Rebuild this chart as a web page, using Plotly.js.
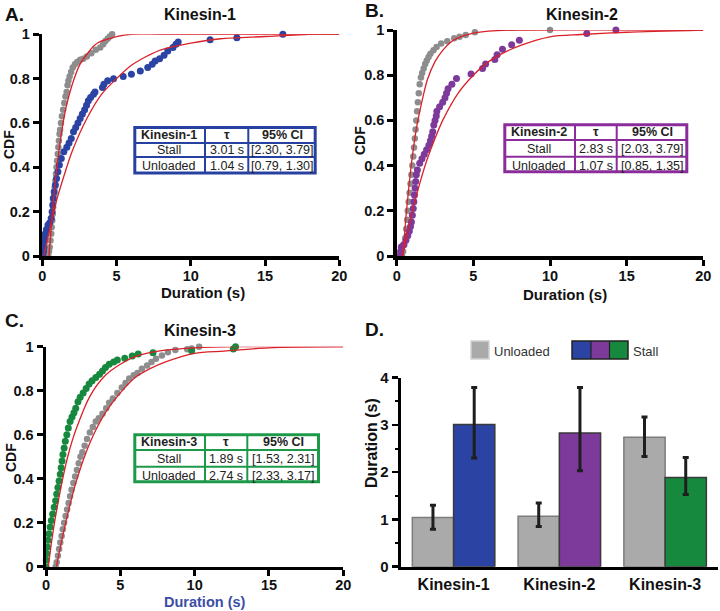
<!DOCTYPE html>
<html>
<head>
<meta charset="utf-8">
<script src="https://cdn.plot.ly/plotly-3.0.1.min.js"></script>
<style>html,body{margin:0;padding:0;background:#fff;}#chart{width:720px;height:611px;}</style>
</head>
<body>
<div id="chart"></div>
<script>
// ---------------- DATA ----------------
const motors = ['Kinesin-1', 'Kinesin-2', 'Kinesin-3'];
const tauUnloaded = [1.04, 1.07, 2.74];
const ciUnloadedLo = [0.79, 0.85, 2.33];
const ciUnloadedHi = [1.30, 1.35, 3.17];
const tauStall = [3.01, 2.83, 1.89];
const ciStallLo = [2.30, 2.03, 1.53];
const ciStallHi = [3.79, 3.79, 2.31];
const xTicksCdf = [0, 5, 10, 15, 20];
const yTicksCdf = [0, 0.2, 0.4, 0.6, 0.8, 1];
const yTicksBar = [0, 1, 2, 3, 4];

// Panel A, Kinesin-1
const k1UnloadedX = [0.40,0.45,0.50,0.55,0.60,0.63,0.67,0.70,0.73,0.76,0.80,0.84,0.88,0.92,0.96,1.00,1.04,1.08,1.12,1.16,1.20,1.26,1.32,1.40,1.48,1.56,1.64,1.70,1.76,1.84,1.94,2.05,2.20,2.35,2.55,2.76,3.00,3.30,3.60,3.90,4.10,4.25,4.40,4.55,4.70];
const k1UnloadedY = [0.00,0.02,0.04,0.07,0.10,0.13,0.16,0.19,0.22,0.25,0.28,0.31,0.34,0.37,0.40,0.43,0.46,0.49,0.52,0.55,0.57,0.60,0.63,0.66,0.69,0.72,0.74,0.77,0.79,0.81,0.83,0.85,0.865,0.875,0.885,0.89,0.90,0.915,0.93,0.94,0.955,0.97,0.98,0.99,1.00];
const k1StallX = [0.05,0.08,0.10,0.12,0.15,0.20,0.28,0.38,0.50,0.60,0.66,0.70,0.74,0.80,0.88,0.96,1.05,1.15,1.28,1.45,1.65,1.80,1.95,2.10,2.25,2.40,2.55,2.70,2.85,2.98,3.10,3.25,3.45,3.55,4.05,4.15,4.40,4.80,5.45,6.00,6.60,7.10,7.40,7.60,7.90,8.20,8.45,8.80,9.00,9.15,11.3,13.1,16.2];
const k1StallY = [0.00,0.02,0.04,0.06,0.08,0.10,0.12,0.14,0.15,0.17,0.20,0.23,0.26,0.29,0.32,0.35,0.38,0.41,0.44,0.47,0.49,0.51,0.53,0.56,0.58,0.60,0.62,0.64,0.66,0.68,0.70,0.715,0.73,0.74,0.76,0.775,0.79,0.80,0.81,0.82,0.835,0.85,0.865,0.88,0.89,0.905,0.925,0.94,0.955,0.965,0.975,0.985,1.00];
const k1FitUnloadedX = [0.45,0.6,0.8,1,1.3,1.6,2,2.5,3,3.5,4,4.5,5,6,8,20];
const k1FitUnloadedY = [0,0.13,0.29,0.41,0.56,0.67,0.77,0.86,0.91,0.95,0.97,0.98,0.99,1,1,1];
const k1FitStallX = [0.1,0.5,1,1.5,2,3,4,5,6,7,8,10,12,15,18,20];
const k1FitStallY = [0,0.12,0.26,0.37,0.47,0.62,0.73,0.80,0.86,0.90,0.93,0.96,0.98,0.99,1,1];

// Panel B, Kinesin-2
const k2UnloadedX = [0.35,0.42,0.50,0.56,0.62,0.68,0.72,0.78,0.84,0.90,0.96,1.02,1.08,1.13,1.18,1.23,1.28,1.33,1.38,1.44,1.50,1.58,1.66,1.76,1.86,1.96,2.08,2.20,2.40,2.60,2.90,3.30,3.75,4.10,4.50,5.10,10.0];
const k2UnloadedY = [0.00,0.02,0.05,0.08,0.12,0.16,0.20,0.24,0.28,0.32,0.36,0.40,0.44,0.48,0.52,0.56,0.60,0.64,0.68,0.72,0.76,0.79,0.81,0.83,0.85,0.865,0.88,0.895,0.91,0.925,0.94,0.95,0.963,0.97,0.978,0.99,1.00];
const k2StallX = [0.20,0.25,0.30,0.45,0.60,0.72,0.82,0.90,0.96,1.02,1.08,1.12,1.16,1.20,1.24,1.28,1.35,1.50,1.65,1.80,1.95,2.10,2.20,2.28,2.35,2.42,2.50,2.58,2.62,2.80,3.00,3.15,3.25,3.35,3.60,3.90,4.85,5.60,5.80,6.40,6.55,6.90,7.50,8.00,12.4,14.3];
const k2StallY = [0.00,0.02,0.04,0.05,0.07,0.09,0.11,0.13,0.15,0.18,0.21,0.24,0.27,0.30,0.33,0.36,0.38,0.41,0.43,0.45,0.47,0.49,0.51,0.53,0.55,0.58,0.60,0.62,0.64,0.66,0.68,0.70,0.72,0.74,0.76,0.785,0.805,0.83,0.85,0.87,0.89,0.915,0.935,0.955,0.985,1.00];
const k2FitUnloadedX = [0.4,0.6,0.8,1,1.3,1.6,2,2.5,3,3.5,4,5,6,8,20];
const k2FitUnloadedY = [0,0.17,0.31,0.43,0.57,0.67,0.78,0.86,0.91,0.945,0.965,0.986,0.995,1,1];
const k2FitStallX = [0.4,0.6,1,1.5,2,2.5,3,4,5,6,7,8,10,12,15,20];
const k2FitStallY = [0,0.07,0.19,0.32,0.43,0.52,0.60,0.72,0.80,0.86,0.90,0.93,0.97,0.98,0.99,1];

// Panel C, Kinesin-3
const k3UnloadedX = [0.65,0.72,0.80,0.88,0.96,1.05,1.13,1.22,1.32,1.42,1.52,1.62,1.72,1.84,1.96,2.08,2.20,2.32,2.45,2.60,2.76,2.95,3.15,3.35,3.55,3.80,4.05,4.25,4.50,4.80,5.10,5.35,5.60,5.90,6.15,6.45,6.80,7.10,7.40,7.80,8.20,8.70,9.50,9.80,10.3];
const k3UnloadedY = [0.00,0.02,0.05,0.08,0.11,0.14,0.17,0.20,0.23,0.26,0.29,0.32,0.35,0.38,0.41,0.44,0.47,0.50,0.52,0.55,0.58,0.61,0.635,0.66,0.675,0.695,0.72,0.745,0.765,0.79,0.815,0.835,0.855,0.87,0.88,0.90,0.915,0.93,0.945,0.96,0.975,0.985,0.988,0.992,1.00];
const k3StallX = [0.00,0.02,0.05,0.10,0.15,0.20,0.28,0.36,0.45,0.55,0.65,0.72,0.80,0.88,0.96,1.02,1.08,1.14,1.22,1.30,1.40,1.50,1.62,1.75,1.88,2.00,2.15,2.30,2.50,2.70,2.90,3.10,3.35,3.60,3.80,4.00,4.25,4.55,4.80,5.30,5.80,6.20,7.20,9.80,12.6,12.75];
const k3StallY = [0.00,0.03,0.06,0.09,0.12,0.15,0.18,0.21,0.24,0.27,0.30,0.33,0.36,0.39,0.42,0.45,0.48,0.51,0.54,0.57,0.60,0.63,0.66,0.68,0.70,0.72,0.75,0.77,0.79,0.81,0.83,0.845,0.86,0.875,0.89,0.905,0.92,0.93,0.94,0.948,0.958,0.967,0.973,0.982,0.99,1.00];
const k3FitUnloadedX = [0.7,1,1.5,2,3,4,5,6,7,8,10,12,15,20];
const k3FitUnloadedY = [0,0.10,0.25,0.38,0.57,0.70,0.79,0.86,0.90,0.93,0.97,0.98,0.995,1];
const k3FitStallX = [0.15,0.5,1,1.5,2,3,4,5,6,8,10,13,20];
const k3FitStallY = [0,0.17,0.36,0.51,0.62,0.78,0.87,0.92,0.955,0.984,0.995,1,1];

// ---------------- STYLE / LAYOUT ----------------
const W = 720, H = 611;
const FONT = 'Liberation Sans, Arial, Helvetica, sans-serif';
const px = x => x / W;
const py = y => 1 - y / H;
const GRAY_PT = '#8d8d8d';
const BLUE = '#2b43a3', PURPLE = '#7d3a9a', GREEN = '#17893f', RED = '#d92129';
const stallColors = [BLUE, PURPLE, GREEN];
const tableColors = ['#2741a0', '#8b2c9b', '#1c9a4a'];

function pts(x, y, color, xa, ya, size) {
  return {type: 'scatter', mode: 'markers', x: x, y: y, xaxis: xa, yaxis: ya,
    marker: {color: color, size: size, line: {width: 0}}, cliponaxis: false, hoverinfo: 'skip'};
}
function fit(x, y, xa, ya) {
  return {type: 'scatter', mode: 'lines', x: x, y: y, xaxis: xa, yaxis: ya,
    line: {color: RED, width: 1.3, shape: 'spline', smoothing: 0.8}, cliponaxis: false, hoverinfo: 'skip'};
}

const traces = [
  pts(k1UnloadedX, k1UnloadedY, GRAY_PT, 'x', 'y', 6.5),
  pts(k1StallX, k1StallY, BLUE, 'x', 'y', 7),
  fit(k1FitUnloadedX, k1FitUnloadedY, 'x', 'y'),
  fit(k1FitStallX, k1FitStallY, 'x', 'y'),
  pts(k2UnloadedX, k2UnloadedY, GRAY_PT, 'x2', 'y2', 6.5),
  pts(k2StallX, k2StallY, PURPLE, 'x2', 'y2', 7),
  fit(k2FitUnloadedX, k2FitUnloadedY, 'x2', 'y2'),
  fit(k2FitStallX, k2FitStallY, 'x2', 'y2'),
  pts(k3UnloadedX, k3UnloadedY, GRAY_PT, 'x3', 'y3', 6.5),
  pts(k3StallX, k3StallY, GREEN, 'x3', 'y3', 7),
  fit(k3FitUnloadedX, k3FitUnloadedY, 'x3', 'y3'),
  fit(k3FitStallX, k3FitStallY, 'x3', 'y3'),
  {type: 'bar', name: 'Unloaded', x: motors, y: tauUnloaded, xaxis: 'x4', yaxis: 'y4',
    marker: {color: '#a9aaa9', line: {color: '#7c7c7c', width: 1.5}},
    error_y: {type: 'data', symmetric: false,
      array: tauUnloaded.map((v, i) => ciUnloadedHi[i] - v),
      arrayminus: tauUnloaded.map((v, i) => v - ciUnloadedLo[i]),
      color: '#1e1e1e', thickness: 3, width: 3}, hoverinfo: 'skip'},
  {type: 'bar', name: 'Stall', x: motors, y: tauStall, xaxis: 'x4', yaxis: 'y4',
    marker: {color: stallColors, line: {color: '#3a3a3a', width: 1.5}},
    error_y: {type: 'data', symmetric: false,
      array: tauStall.map((v, i) => ciStallHi[i] - v),
      arrayminus: tauStall.map((v, i) => v - ciStallLo[i]),
      color: '#1e1e1e', thickness: 3, width: 3}, hoverinfo: 'skip'}
];

const tickFont = {family: FONT, size: 14.5, color: '#111', weight: 'bold'};
function cdfX(d0, d1, anchor, standoff) {
  return {domain: [px(d0), px(d1)], anchor: anchor, range: [0, 20], tickmode: 'array', tickvals: xTicksCdf,
    showline: true, linewidth: 3.5, linecolor: '#000', ticks: 'outside', ticklen: 6, tickwidth: 3, tickcolor: '#000',
    showgrid: false, zeroline: false, tickfont: tickFont, ticklabelstandoff: standoff, fixedrange: true};
}
function cdfY(d0, d1, anchor) {
  return {domain: [py(d1), py(d0)], anchor: anchor, range: [0, 1], tickmode: 'array', tickvals: yTicksCdf,
    showline: true, linewidth: 3.5, linecolor: '#000', ticks: 'outside', ticklen: 6, tickwidth: 3, tickcolor: '#000',
    showgrid: false, zeroline: false, tickfont: tickFont, fixedrange: true};
}

const shapes = [];
const annotations = [];
function txt(text, x, y, size, opts) {
  annotations.push(Object.assign({text: text, xref: 'paper', yref: 'paper', x: px(x), y: py(y),
    xanchor: 'center', yanchor: 'middle', showarrow: false,
    font: {family: FONT, size: size, color: '#111'}}, opts || {}));
}
function rect(x0, y0, x1, y1, fill, lineColor, lw) {
  shapes.push({type: 'rect', xref: 'paper', yref: 'paper', x0: px(x0), x1: px(x1), y0: py(y1), y1: py(y0),
    fillcolor: fill, line: {color: lineColor || fill, width: lw || 0}, layer: 'above'});
}

// Panel letters and titles
txt('<b>A.</b>', 14, 14, 19);
txt('<b>B.</b>', 374, 11, 19);
txt('<b>C.</b>', 14, 320, 19);
txt('<b>D.</b>', 374, 329, 19);
txt('<b>' + motors[0] + '</b>', 200, 15, 16);
txt('<b>' + motors[1] + '</b>', 582, 15, 16);
txt('<b>' + motors[2] + '</b>', 200, 330, 16);
// axis titles
txt('<b>CDF</b>', 9, 145, 14, {textangle: -90});
txt('<b>CDF</b>', 360, 141, 14, {textangle: -90});
txt('<b>CDF</b>', 11, 458, 14, {textangle: -90});
txt('<b>Duration (s)</b>', 203, 292, 15);
txt('<b>Duration (s)</b>', 565, 294, 15);
txt('<b>Duration (s)</b>', 205, 601.5, 14.5, {font: {family: FONT, size: 14.5, color: '#3b4ea6'}});
txt('<b>Duration (s)</b>', 371, 443, 16, {textangle: -90});

// Tables
function table(k, cols, rows) {
  const c = tableColors[k];
  rect(cols[0], rows[0], cols[3], rows[3], c);
  for (let r = 0; r < 3; r++) {
    for (let j = 0; j < 3; j++) {
      const x0 = cols[j] + (j === 0 ? 3 : 1), x1 = cols[j + 1] - (j === 2 ? 3 : 1);
      const y0 = rows[r] + (r === 0 ? 3 : 1), y1 = rows[r + 1] - (r === 2 ? 3 : 1);
      rect(x0, y0, x1, y1, '#ffffff');
    }
  }
  const cells = [
    ['<b>' + motors[k] + '</b>', '<b>τ</b>', '<b>95% CI</b>'],
    ['Stall', tauStall[k].toFixed(2) + ' s', '[' + ciStallLo[k].toFixed(2) + ', ' + ciStallHi[k].toFixed(2) + ']'],
    ['Unloaded', tauUnloaded[k].toFixed(2) + ' s', '[' + ciUnloadedLo[k].toFixed(2) + ', ' + ciUnloadedHi[k].toFixed(2) + ']']
  ];
  for (let r = 0; r < 3; r++) {
    for (let j = 0; j < 3; j++) {
      txt(cells[r][j], (cols[j] + cols[j + 1]) / 2, (rows[r] + rows[r + 1]) / 2 + 0.5, 12.5,
        {font: {family: FONT, size: 12.5, color: '#222'}});
    }
  }
}
table(0, [133.3, 205, 248.3, 316.7], [126, 143, 157, 174.5]);
table(1, [503.3, 575, 616.7, 688.3], [123.3, 140, 156.7, 173.3]);
table(2, [133.3, 205, 247.3, 320], [433.3, 450, 466.7, 483.3]);

// Panel D legend
rect(471, 341, 489, 359, '#a9aaa9', '#d2d2d2', 1.5);
rect(572, 341, 591, 359, stallColors[0]);
rect(591, 341, 609.5, 359, stallColors[1]);
rect(609.5, 341, 628, 359, stallColors[2]);
shapes.push({type: 'rect', xref: 'paper', yref: 'paper', x0: px(572), x1: px(628), y0: py(359), y1: py(341),
  line: {color: '#222', width: 1.5}, layer: 'above'});
shapes.push({type: 'line', xref: 'paper', yref: 'paper', x0: px(591), x1: px(591), y0: py(359), y1: py(341), line: {color: '#222', width: 1.2}});
shapes.push({type: 'line', xref: 'paper', yref: 'paper', x0: px(609.5), x1: px(609.5), y0: py(359), y1: py(341), line: {color: '#222', width: 1.2}});
txt('Unloaded', 492, 351, 13, {xanchor: 'left', font: {family: FONT, size: 13, color: '#333'}});
txt('Stall', 631, 351, 13, {xanchor: 'left', font: {family: FONT, size: 13, color: '#333'}});

const layout = {
  width: W, height: H, margin: {l: 0, r: 0, t: 0, b: 0},
  paper_bgcolor: '#ffffff', plot_bgcolor: 'rgba(0,0,0,0)',
  showlegend: false, font: {family: FONT, color: '#111'},
  xaxis: cdfX(42.3, 339.3, 'y', -2),
  yaxis: cdfY(34.3, 256, 'x'),
  xaxis2: cdfX(396.7, 703.3, 'y2', -2),
  yaxis2: cdfY(30, 256, 'x2'),
  xaxis3: cdfX(46, 343.3, 'y3', -4),
  yaxis3: cdfY(346.7, 566.7, 'x3'),
  xaxis4: {domain: [px(400.7), px(718)], anchor: 'y4', type: 'category', categoryarray: motors,
    showline: true, linewidth: 3.5, linecolor: '#000', ticks: '', showgrid: false, zeroline: false,
    tickfont: {family: FONT, size: 16, color: '#111', weight: 'bold'}, ticklabelstandoff: 1, fixedrange: true},
  yaxis4: {domain: [py(566.7), py(377.7)], anchor: 'x4', range: [0, 4], tickmode: 'array', tickvals: yTicksBar,
    showline: true, linewidth: 3, linecolor: '#000', ticks: 'outside', ticklen: 6, tickwidth: 2.5, tickcolor: '#000',
    minor: {dtick: 0.5, ticks: 'outside', ticklen: 3, tickwidth: 2, tickcolor: '#000'},
    showgrid: false, zeroline: false, tickfont: {family: FONT, size: 15, color: '#111', weight: 'bold'}, fixedrange: true},
  barmode: 'group', bargap: 0.22, bargroupgap: 0,
  shapes: shapes, annotations: annotations
};

Plotly.newPlot('chart', traces, layout, {displayModeBar: false, staticPlot: true});
</script>
</body>
</html>
